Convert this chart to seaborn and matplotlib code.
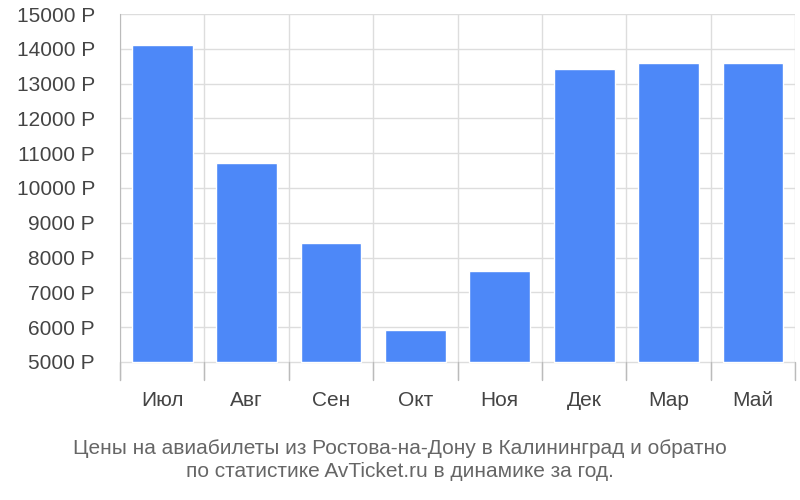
import matplotlib
matplotlib.use("Agg")
import matplotlib.pyplot as plt
import seaborn as sns
import pandas as pd

months = ["Июл", "Авг", "Сен", "Окт", "Ноя", "Дек", "Мар", "Май"]
prices = [14100, 10730, 8420, 5930, 7620, 13430, 13600, 13600]
yticks = list(range(5000, 15001, 1000))

sns.set_style("white")
plt.rcParams['font.family'] = ['Liberation Sans', 'DejaVu Sans']

fig = plt.figure(figsize=(8, 5), dpi=100)
ax = fig.add_axes([0.15, 0.24, 0.844, 0.732])
df = pd.DataFrame({"m": months, "p": prices})
base = 4480
sns.barplot(data=df, x="m", y="p", color="#4d88f8", saturation=1, width=0.72, ax=ax, zorder=2)
for b in ax.patches:
    b.set_y(5000); b.set_height(b.get_height() - 5000)
ax.set_ylim(base, 15000)
ax.set_xlim(-0.5, len(months) - 0.5)
ax.set_yticks(yticks)
ax.set_yticklabels([f"{v} Р" for v in yticks], fontsize=15, color="#444444")
ax.tick_params(axis='x', labelsize=15, colors="#444444", length=0, pad=8)
ax.tick_params(axis='y', length=0, pad=18)
for v in yticks:
    ax.axhline(v, color="#dddddd", lw=1, zorder=0)
for i in range(len(months) + 1):
    x = i - 0.5
    ax.axvline(x, color="#dddddd", lw=1, zorder=0)
    ax.plot([x, x], [base, 5000], color="#bbbbbb", lw=1, zorder=1, clip_on=False)
for s in ["top", "right", "bottom"]:
    ax.spines[s].set_visible(False)
ax.spines["left"].set_color("#bbbbbb")
ax.set_xlabel(""); ax.set_ylabel("")
fig.text(0.5, 0.08, "Цены на авиабилеты из Ростова-на-Дону в Калининград и обратно\nпо статистике AvTicket.ru в динамике за год.",
         ha="center", va="center", fontsize=15, color="#666666", linespacing=1.3)
fig.savefig("out.png", dpi=100)
